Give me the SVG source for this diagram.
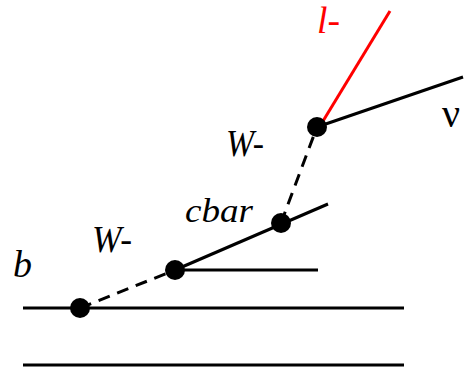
<svg xmlns="http://www.w3.org/2000/svg" width="468" height="368" viewBox="0 0 468 368">
<style>
.l{stroke:#000;stroke-width:3;fill:none}
.d{stroke:#000;stroke-width:3;fill:none;stroke-dasharray:12,8}
.r{stroke:#f00;stroke-width:3;fill:none}
.v{fill:#000}
text{font-family:"Liberation Serif","Times New Roman",Times,serif}
.t{font-style:italic;font-size:38px;fill:#000}
.n{font-size:40px;fill:#000}
</style>
<rect width="468" height="368" fill="#fff"/>
<g id="connectors">
<line class="l" x1="23" y1="308" x2="404" y2="308"/>
<line class="l" x1="23" y1="365" x2="404" y2="365"/>
<line class="d" x1="80" y1="308" x2="175" y2="270"/>
<line class="l" x1="175" y1="270" x2="318" y2="270"/>
<line class="l" x1="175" y1="270" x2="328" y2="204"/>
<line class="d" x1="281" y1="223" x2="317" y2="127"/>
<line class="r" x1="320" y1="126" x2="390" y2="11"/>
<line class="l" x1="317" y1="127" x2="463" y2="77"/>
</g>
<g id="v1"><circle class="v" cx="80" cy="308" r="10"/></g>
<g id="v2"><circle class="v" cx="175" cy="270" r="10"/></g>
<g id="v3"><circle class="v" cx="281" cy="223" r="10"/></g>
<g id="v4"><circle class="v" cx="317" cy="127" r="10"/></g>
<g id="labels">
<text class="t" x="13" y="277">b</text>
<text class="t" x="92" y="252" textLength="40" lengthAdjust="spacingAndGlyphs">W-</text>
<text class="t" x="185" y="222" style="font-size:34px" textLength="68" lengthAdjust="spacingAndGlyphs">cbar</text>
<text class="t" x="226" y="156" textLength="38" lengthAdjust="spacingAndGlyphs">W-</text>
<text class="t" x="317" y="33" style="fill:#f00" textLength="23" lengthAdjust="spacingAndGlyphs">l-</text>
<text class="n" x="442" y="127">ν</text>
</g>
</svg>
